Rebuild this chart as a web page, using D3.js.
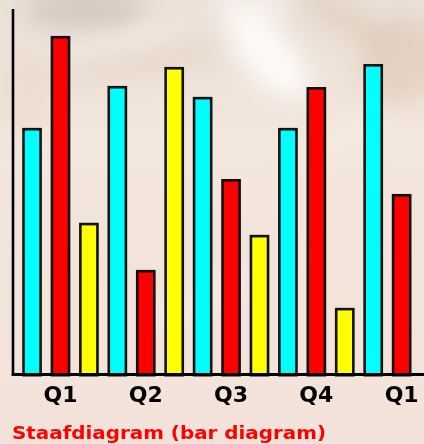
<!DOCTYPE html>
<html>
<head>
<meta charset="utf-8">
<script src="https://cdn.jsdelivr.net/npm/d3@7"></script>
<style>
  html, body { margin: 0; padding: 0; background: #f3e3d9; }
  svg { display: block; }
</style>
</head>
<body>
<svg id="chart" width="424" height="444"></svg>
<script>
// Quarterly values, three series per quarter (last group repeats Q1 of the next year)
const quarters = ["Q1", "Q2", "Q3", "Q4", "Q1"];
const seriesNames = ["cyan", "red", "yellow"];
const seriesColors = ["#00ffff", "#ff0000", "#ffff00"];
const cyanValues   = [67.4, 78.9, 75.9, 67.4, 84.9];
const redValues    = [92.6, 28.5, 53.4, 78.6, 49.3];
const yellowValues = [41.4, 84.1, 38.1, 18.1, null];

const W = 424, H = 444;
const svg = d3.select("#chart");

// soft, washed-out photographic backdrop
const defs = svg.append("defs");
defs.append("filter").attr("id", "soft").attr("x", "-50%").attr("y", "-50%")
  .attr("width", "200%").attr("height", "200%")
  .append("feGaussianBlur").attr("stdDeviation", 12);
const bgGrad = defs.append("linearGradient").attr("id", "bgGrad")
  .attr("x1", 0).attr("y1", 0).attr("x2", 0).attr("y2", 1);
bgGrad.append("stop").attr("offset", "0%").attr("stop-color", "#ebe1d8");
bgGrad.append("stop").attr("offset", "30%").attr("stop-color", "#f3e6dc");
bgGrad.append("stop").attr("offset", "100%").attr("stop-color", "#f3e2d9");
svg.append("rect").attr("width", W).attr("height", H).attr("fill", "url(#bgGrad)");

const bg = svg.append("g").attr("filter", "url(#soft)");
const blobs = [
  { cx: 85,  cy: 10,  rx: 60, ry: 22, c: "#cfc4bb", o: 0.8,  r: 0 },
  { cx: 130, cy: 62,  rx: 95, ry: 12, c: "#decabb", o: 0.55, r: -6 },
  { cx: 110, cy: 45,  rx: 70, ry: 10, c: "#faf4ee", o: 0.6,  r: -12 },
  { cx: 268, cy: 55,  rx: 24, ry: 55, c: "#ffffff", o: 0.85, r: -40 },
  { cx: 250, cy: 5,   rx: 40, ry: 14, c: "#fbf7f3", o: 0.7,  r: 0 },
  { cx: 345, cy: 20,  rx: 55, ry: 14, c: "#dcc6b4", o: 0.6,  r: 30 },
  { cx: 400, cy: 60,  rx: 40, ry: 45, c: "#dcc2ad", o: 0.55, r: 20 },
  { cx: 25,  cy: 90,  rx: 25, ry: 45, c: "#e9d8c8", o: 0.5,  r: 0 },
  { cx: 340, cy: 140, rx: 50, ry: 10, c: "#fbf3ee", o: 0.5,  r: -20 },
  { cx: 200, cy: 300, rx: 60, ry: 12, c: "#ffffff", o: 0.3,  r: -25 }
];
bg.selectAll("ellipse").data(blobs).join("ellipse")
  .attr("cx", d => d.cx).attr("cy", d => d.cy)
  .attr("rx", d => d.rx).attr("ry", d => d.ry)
  .attr("fill", d => d.c).attr("opacity", d => d.o)
  .attr("transform", d => `rotate(${d.r},${d.cx},${d.cy})`);

// flat list of bars in drawing order
const valuesBySeries = [cyanValues, redValues, yellowValues];
const bars = [];
quarters.forEach((q, gi) => {
  seriesNames.forEach((s, si) => {
    const v = valuesBySeries[si][gi];
    if (v !== null && v !== undefined) bars.push({ group: gi, series: si, value: v });
  });
});

const baseY = 374;
const x = d3.scaleBand()
  .domain(d3.range(bars.length))
  .range([22.3, 411.4])
  .paddingInner(0.314)
  .paddingOuter(0);
const y = d3.scaleLinear().domain([0, 100]).range([baseY, 9]);

const bw = x.bandwidth();
svg.append("g").selectAll("rect").data(bars).join("rect")
  .attr("x", (d, i) => x(i) + 1.2)
  .attr("y", d => y(d.value) + 1.2)
  .attr("width", bw - 2.4)
  .attr("height", d => baseY - y(d.value))
  .attr("fill", d => seriesColors[d.series])
  .attr("stroke", "#111")
  .attr("stroke-width", 2.6);

// axis lines
svg.append("line").attr("x1", 13).attr("x2", 13).attr("y1", 9).attr("y2", baseY + 1.5)
  .attr("stroke", "#000").attr("stroke-width", 2.6);
svg.append("line").attr("x1", 11.7).attr("x2", W).attr("y1", baseY + 0.5).attr("y2", baseY + 0.5)
  .attr("stroke", "#000").attr("stroke-width", 3);

// quarter labels, centred under the middle bar of each group
const centerIdx = quarters.map((q, gi) => bars.findIndex(b => b.group === gi && b.series === 1));
svg.append("g").selectAll("text").data(quarters).join("text")
  .attr("x", (q, gi) => x(centerIdx[gi]) + bw / 2)
  .attr("y", 402)
  .attr("text-anchor", "middle")
  .attr("font-family", "DejaVu Sans, Verdana, sans-serif")
  .attr("font-weight", "bold")
  .attr("font-size", 22)
  .attr("fill", "#000")
  .text(q => q);

svg.append("text")
  .attr("x", 12).attr("y", 439)
  .attr("font-family", "DejaVu Sans, Verdana, sans-serif")
  .attr("font-weight", "bold")
  .attr("font-size", 18.5)
  .attr("fill", "#ff0000")
  .attr("textLength", 314)
  .attr("lengthAdjust", "spacingAndGlyphs")
  .text("Staafdiagram (bar diagram)");
</script>
</body>
</html>
